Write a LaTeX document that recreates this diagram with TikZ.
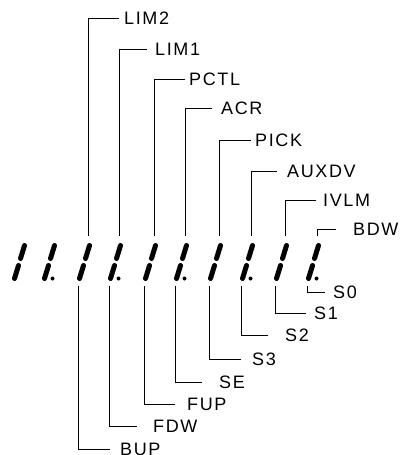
\documentclass[tikz,border=0pt]{standalone}
\usepackage{fontspec}
\newfontfamily\lblfont{Liberation Sans}[LetterSpace=9]
\usepackage{tikz}

\begin{document}
\begin{tikzpicture}[
  x=1pt, y=-1pt,
  seg/.style={line width=5pt, line cap=round},
  wire/.style={line width=0.9pt},
  lbl/.style={anchor=west, inner ysep=0pt, text height=13pt, text depth=0pt,
              font=\lblfont\fontsize{18}{18}\selectfont}
]
\useasboundingbox (0,0) rectangle (400,455);

% display digits: top x of each digit, every second one with a point
\foreach \xt [count=\i] in {23,53,88,119,154,185,219,251,285,317}{
  \draw[seg] (\xt+1.5,245.5) -- (\xt-2.5,258.5);
  \draw[seg] (\xt-4.5,265.5) -- (\xt-8.5,278.5);
  \ifodd\i\else \fill (\xt-0.5,278.5) circle (2); \fi
  \coordinate (d\i t) at (\xt,236);
  \coordinate (d\i b) at (\xt-9.5,286);
}

% upper labels
\node[lbl, inner xsep=5pt]  at (119,18)  (lim2)  {LIM2};
\node[lbl, inner xsep=8pt]  at (147,49)  (lim1)  {LIM1};
\node[lbl, inner xsep=4pt]  at (185,79)  (pctl)  {PCTL};
\node[lbl, inner xsep=9pt]  at (212,108) (acr)   {ACR};
\node[lbl, inner xsep=4pt]  at (251,140) (pick)  {PICK};
\node[lbl, inner xsep=10pt] at (277,171) (auxdv) {AUXDV};
\node[lbl, inner xsep=7pt]  at (316,200) (ivlm)  {IVLM};
\node[lbl, inner xsep=17pt] at (336,229) (bdw)   {BDW};

% lower labels
\node[lbl, inner xsep=10pt] at (110,449) (bup) {BUP};
\node[lbl, inner xsep=16pt] at (137,426) (fdw) {FDW};
\node[lbl, inner xsep=12pt] at (175,404) (fup) {FUP};
\node[lbl, inner xsep=17pt] at (202,382) (se)  {SE};
\node[lbl, inner xsep=11pt] at (241,359) (sthree) {S3};
\node[lbl, inner xsep=17pt] at (268,335) (stwo)   {S2};
\node[lbl, inner xsep=8pt]  at (306,313) (sone)   {S1};
\node[lbl, inner xsep=8pt]  at (325,292) (szero)  {S0};

\draw[wire] (d3t) |- (lim2.west);
\draw[wire] (d4t) |- (lim1.west);
\draw[wire] (d5t) |- (pctl.west);
\draw[wire] (d6t) |- (acr.west);
\draw[wire] (d7t) |- (pick.west);
\draw[wire] (d8t) |- (auxdv.west);
\draw[wire] (d9t) |- (ivlm.west);
\draw[wire] (d10t) |- (bdw.west);

\draw[wire] (d3b) |- (bup.west);
\draw[wire] (d4b) |- (fdw.west);
\draw[wire] (d5b) |- (fup.west);
\draw[wire] (d6b) |- (se.west);
\draw[wire] (d7b) |- (sthree.west);
\draw[wire] (d8b) |- (stwo.west);
\draw[wire] (d9b) |- (sone.west);
\draw[wire] (d10b) |- (szero.west);
\end{tikzpicture}
\end{document}
